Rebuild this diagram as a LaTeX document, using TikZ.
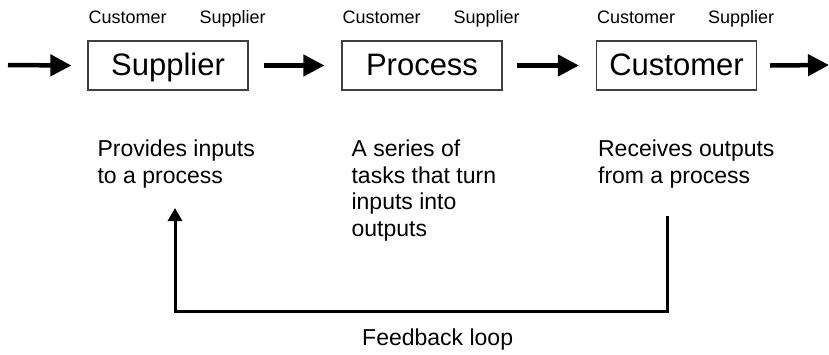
\documentclass[tikz,border=0pt]{standalone}
\usepackage{fontspec}
\setmainfont{Liberation Sans}
\usetikzlibrary{arrows.meta,positioning}

\tikzset{
  stage/.style={draw=black!75, line width=1.2pt, minimum width=160pt, minimum height=49pt,
    inner sep=0pt, text height=22pt, text depth=3pt, font=\fontsize{31}{36}\selectfont},
  role/.style={anchor=base west, inner sep=0pt, font=\fontsize{18}{22}\selectfont},
  desc/.style={anchor=base west, inner sep=0pt, align=left, font=\fontsize{23}{26.5}\selectfont},
  flow/.style={line width=4.5pt, -{Triangle[length=21pt,width=21pt]}},
  feedback/.style={line width=3pt, -{Triangle[length=13pt,width=14pt]}}
}

\begin{document}
\begin{tikzpicture}[x=1pt, y=-1pt]
  \useasboundingbox (0,0) rectangle (829,354);
  % the three stages
  \node[stage] (sup)  at (168,65.5)   {Supplier};
  \node[stage] (proc) at (422,65.5)   {Process};
  \node[stage] (cust) at (676.5,65.5) {Customer};
  % customer / supplier roles above each stage
  \foreach \s in {sup,proc,cust}{
    \node[role] (\s-c) at ([xshift=1pt,yshift=17pt]\s.north west) {Customer};
    \node[role] (\s-s) at ([xshift=112pt,yshift=17pt]\s.north west) {Supplier};
  }
  % descriptions (base is the last line)
  \node[desc] (sup-d)  at ([xshift=10pt,yshift=-92.5pt]sup.south west)   {Provides inputs\\to a process};
  \node[desc] (proc-d) at ([xshift=10pt,yshift=-145.5pt]proc.south west) {A series of\\tasks that turn\\inputs into\\outputs};
  \node[desc] (cust-d) at ([xshift=2pt,yshift=-92.5pt]cust.south west)   {Receives outputs\\from a process};
  % flow arrows
  \coordinate (in)  at (8,65);
  \coordinate (out) at (829,65);
  \draw[flow] (in) -- ([xshift=-16pt]sup.west);
  \draw[flow] ([xshift=15pt]sup.east) -- ([xshift=-17pt]proc.west);
  \draw[flow] ([xshift=14pt]proc.east) -- ([xshift=-17pt]cust.west);
  \draw[flow] ([xshift=13pt]cust.east) -- (out);
  % feedback loop
  \coordinate (fbstart) at (667,216);
  \coordinate (fbend)   at (175,208);
  \draw[feedback] (fbstart) -- ++(0,95) -| (fbend);
  \node[desc] (fb) at (362,345) {Feedback loop};
\end{tikzpicture}
\end{document}
